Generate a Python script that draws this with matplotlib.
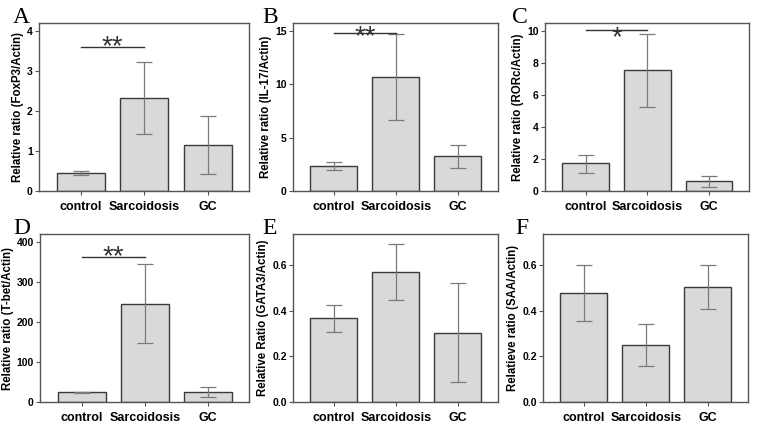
import numpy as np
import matplotlib

matplotlib.use("Agg")
import matplotlib.pyplot as plt

groups = ["control", "Sarcoidosis", "GC"]

# values; lo/hi are the ends of the error bars
foxp3_mean = [0.45, 2.33, 1.14]
foxp3_lo = [0.40, 1.42, 0.42]
foxp3_hi = [0.50, 3.22, 1.87]

il17_mean = [2.34, 10.65, 3.28]
il17_lo = [1.97, 6.65, 2.19]
il17_hi = [2.72, 14.70, 4.31]

rorc_mean = [1.73, 7.54, 0.60]
rorc_lo = [1.14, 5.25, 0.27]
rorc_hi = [2.27, 9.79, 0.92]

tbet_mean = [24.0, 246.0, 25.0]
tbet_lo = [22.0, 147.0, 12.0]
tbet_hi = [26.0, 345.0, 38.0]

gata3_mean = [0.367, 0.570, 0.303]
gata3_lo = [0.306, 0.448, 0.089]
gata3_hi = [0.426, 0.691, 0.519]

saa_mean = [0.477, 0.249, 0.506]
saa_lo = [0.356, 0.159, 0.410]
saa_hi = [0.600, 0.340, 0.603]

# significance bar: height in data units, marker, star lift above the bar (px)
panels = [
    ("A", "Relative ratio (FoxP3/Actin)", foxp3_mean, foxp3_lo, foxp3_hi, [0, 1, 2, 3, 4], 4.2, "0", (3.6, "**", 9)),
    ("B", "Relative ratio (IL-17/Actin)", il17_mean, il17_lo, il17_hi, [0, 5, 10, 15], 15.75, "0", (14.78, "**", 5)),
    ("C", "Relative ratio (RORc/Actin)", rorc_mean, rorc_lo, rorc_hi, [0, 2, 4, 6, 8, 10], 10.5, "0", (10.04, "*", 1)),
    ("D", "Relative ratio (T-bet/Actin)", tbet_mean, tbet_lo, tbet_hi, [0, 100, 200, 300, 400], 420, "0", (362, "**", 9)),
    ("E", "Relative Ratio (GATA3/Actin)", gata3_mean, gata3_lo, gata3_hi, [0.0, 0.2, 0.4, 0.6], 0.735, "1", None),
    ("F", "Relatieve ratio (SAA/Actin)", saa_mean, saa_lo, saa_hi, [0.0, 0.2, 0.4, 0.6], 0.737, "1", None),
]

# axes boxes in pixels (left, top, width) of a 757x428 canvas
boxes = [(39, 23, 210), (293, 23, 205), (545, 23, 204),
         (40, 234, 209), (293, 234, 205), (543, 234, 205)]
letter_pos = [(13, 23), (262, 23), (512, 23), (13, 234), (262, 234), (515, 234)]

W, H = 757, 428
AX_H = 168
SANS = ["Liberation Sans", "DejaVu Sans"]
PX = 72 / 100  # points per pixel

fig = plt.figure(figsize=(W / 100, H / 100), dpi=100)
edge = "#3a3a3a"
x = np.arange(len(groups))

for (letter, ylabel, mean, lo, hi, yticks, ytop, fmt, sig), (l, t, w), (lx, ly) in zip(panels, boxes, letter_pos):
    ax = fig.add_axes([l / W, 1 - (t + AX_H) / H, w / W, AX_H / H])
    mean = np.array(mean)
    yerr = [mean - np.array(lo), np.array(hi) - mean]
    ax.bar(x, mean, width=0.76, color="#d9d9d9", edgecolor=edge, linewidth=1.0, zorder=2)
    ax.errorbar(x, mean, yerr=yerr, fmt="none", ecolor="#7a7a7a", elinewidth=0.9,
                capsize=5.5, capthick=0.9, zorder=3)
    ax.set_xlim(-0.66, 2.65)
    ax.set_ylim(0, ytop)
    ax.set_yticks(yticks)
    if fmt == "1":
        ax.set_yticklabels([f"{v:.1f}" for v in yticks])
    else:
        ax.set_yticklabels([f"{v:g}" for v in yticks])
    ax.set_xticks(x)
    ax.set_xticklabels(groups, family=SANS, fontweight="bold", fontsize=9)
    for lab in ax.get_yticklabels():
        lab.set_family(SANS)
        lab.set_fontweight("bold")
        lab.set_fontsize(7.5)
    ax.tick_params(axis="both", direction="out", length=3, width=0.8, color="#555555", pad=1.5)
    ax.tick_params(axis="x", pad=4)
    for sp in ax.spines.values():
        sp.set_color("#555555")
        sp.set_linewidth(1.0)
    ax.set_ylabel(ylabel, family=SANS, fontweight="bold", fontsize=8.3, labelpad=2)
    if sig is not None:
        sy, stars, lift = sig
        ax.plot([0, 1], [sy, sy], color="#333333", lw=1.0, zorder=4)
        # asterisk ink sits ~16 px above the baseline at 20 pt
        ax.annotate(stars, (0.5, sy), xytext=(0, (lift - 16) * PX), textcoords="offset points",
                    ha="center", va="baseline", family=SANS, fontsize=20,
                    color="#333333", zorder=5)
    fig.text(lx / W, 1 - ly / H, letter, family=["Liberation Serif", "DejaVu Serif"],
             fontsize=17, ha="left", va="baseline")

fig.savefig("out.png", dpi=100)
